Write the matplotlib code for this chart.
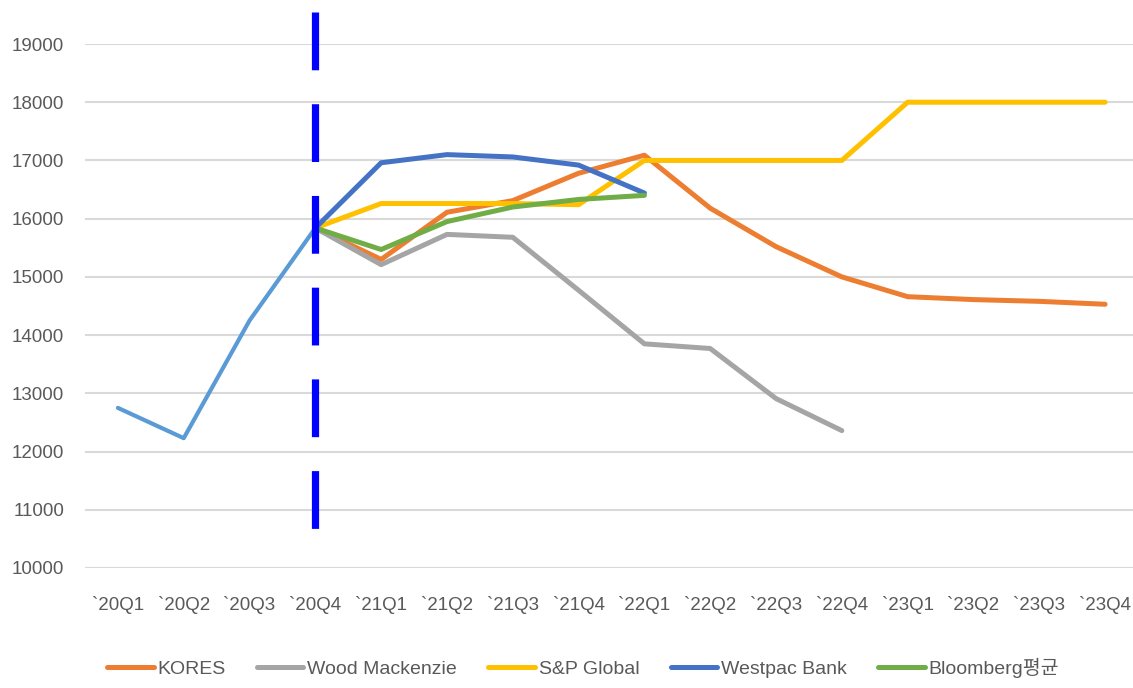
import matplotlib
matplotlib.use("Agg")
import matplotlib.pyplot as plt
from matplotlib import font_manager

quarters = ["`20Q1", "`20Q2", "`20Q3", "`20Q4", "`21Q1", "`21Q2", "`21Q3", "`21Q4",
            "`22Q1", "`22Q2", "`22Q3", "`22Q4", "`23Q1", "`23Q2", "`23Q3", "`23Q4"]

# actual price up to 20Q4, forecasts start from there
actual = [12750, 12230, 14250, 15840]
kores = [15840, 15300, 16110, 16310, 16780, 17090, 16180, 15520, 15000, 14660, 14610, 14580, 14530]
wood_mackenzie = [15840, 15210, 15730, 15680, 14770, 13850, 13770, 12910, 12360]
sp_global = [15840, 16260, 16260, 16260, 16240, 17000, 17000, 17000, 17000, 18000, 18000, 18000, 18000]
westpac = [15840, 16960, 17100, 17060, 16920, 16440]
bloomberg = [15840, 15470, 15950, 16200, 16330, 16400]

series_labels = ["KORES", "Wood Mackenzie", "S&P Global", "Westpac Bank", "Bloomberg평균"]
series_values = [kores, wood_mackenzie, sp_global, westpac, bloomberg]
series_colors = ["#ED7D31", "#A5A5A5", "#FFC000", "#4472C4", "#70AD47"]

yticks = list(range(10000, 19001, 1000))

names = {f.name for f in font_manager.fontManager.ttflist}
base = "Liberation Sans Narrow" if "Liberation Sans Narrow" in names else "Liberation Sans"
plt.rcParams["font.family"] = [base, "Noto Sans CJK KR", "DejaVu Sans"]

fig = plt.figure(figsize=(11.33, 6.88), dpi=100)
ax = fig.add_axes([85 / 1133, 1 - 568 / 688, 1053 / 1133, (568 - 44) / 688])

x_actual = list(range(len(actual)))
ax.plot(x_actual, actual, color="#5B9BD5", lw=3.0, solid_capstyle="round", zorder=3)

start = len(actual) - 1
for label, vals, col in zip(series_labels, series_values, series_colors):
    xs = list(range(start, start + len(vals)))
    ax.plot(xs, vals, color=col, lw=3.6, label=label,
            solid_capstyle="round", solid_joinstyle="round", zorder=4)

# forecast start marker
ax.plot([start, start], [19550, 10650], color="#0000FF", lw=5.2,
        dashes=(8.0, 4.7), clip_on=False, zorder=5)

ax.set_xlim(-0.5, len(quarters) - 0.5)
ax.set_ylim(10000, 19000)
ax.set_xticks(range(len(quarters)))
ax.set_xticklabels(quarters)
ax.set_yticks(yticks)
ax.tick_params(axis="both", length=0, labelsize=13.5, colors="#595959")
ax.tick_params(axis="x", pad=20)
ax.tick_params(axis="y", pad=15)
ax.grid(axis="y", color="#D9D9D9", lw=1.5)
ax.set_axisbelow(True)
for s in ax.spines.values():
    s.set_visible(False)

fig.legend(loc="center", bbox_to_anchor=(583 / 1133, 1 - 668 / 688), ncol=5,
           frameon=False, fontsize=14, handlelength=2.4, handletextpad=0.2,
           columnspacing=1.6, labelcolor="#595959")

fig.savefig("out.png", dpi=100, facecolor="white")
